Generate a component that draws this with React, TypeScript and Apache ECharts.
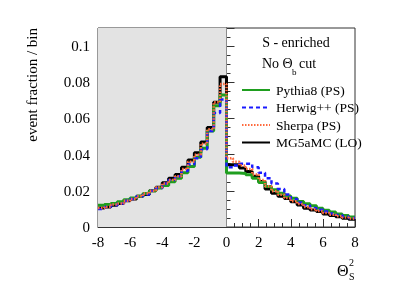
import React, { useEffect, useRef } from "react";
import * as echarts from "echarts";

const BIN_MIN = -8;
const BIN_WIDTH = 0.4;
const X_MAX = 8;

const pythia = [
  0.012, 0.0125, 0.013, 0.014, 0.015, 0.016, 0.017, 0.0185, 0.02, 0.0215,
  0.023, 0.025, 0.027, 0.03, 0.0335, 0.0385, 0.0435, 0.053, 0.067, 0.073,
  0.0298, 0.0298, 0.0296, 0.0289, 0.027, 0.0246, 0.0224, 0.0206, 0.0187, 0.0172,
  0.0159, 0.0141, 0.0128, 0.0117, 0.0104, 0.0093, 0.0083, 0.0072, 0.0063, 0.0055,
];
const herwig = [
  0.01, 0.011, 0.012, 0.013, 0.0145, 0.0155, 0.017, 0.018, 0.02, 0.0215,
  0.024, 0.026, 0.028, 0.031, 0.0345, 0.038, 0.043, 0.053, 0.063, 0.0705,
  0.033, 0.034, 0.035, 0.035, 0.033, 0.03, 0.027, 0.024, 0.021, 0.018,
  0.0155, 0.0135, 0.012, 0.0105, 0.0095, 0.0085, 0.0075, 0.0066, 0.0058, 0.005,
];
const sherpa = [
  0.0105, 0.011, 0.0125, 0.013, 0.0145, 0.0155, 0.017, 0.0185, 0.02, 0.022,
  0.024, 0.026, 0.028, 0.032, 0.036, 0.04, 0.046, 0.054, 0.069, 0.079,
  0.038, 0.036, 0.034, 0.032, 0.029, 0.026, 0.0225, 0.0198, 0.0178, 0.016,
  0.0143, 0.0127, 0.011, 0.0098, 0.0088, 0.0078, 0.0068, 0.006, 0.0053, 0.0047,
];
const mg5 = [
  0.0105, 0.011, 0.012, 0.013, 0.0145, 0.0155, 0.017, 0.018, 0.02, 0.022,
  0.0245, 0.027, 0.029, 0.033, 0.037, 0.041, 0.047, 0.055, 0.069, 0.083,
  0.0344, 0.0344, 0.0326, 0.0307, 0.028, 0.0252, 0.021, 0.0187, 0.017, 0.0157,
  0.014, 0.0122, 0.0104, 0.0094, 0.0085, 0.0072, 0.0063, 0.0057, 0.0048, 0.0043,
];

const seriesNames = ["Pythia8 (PS)", "Herwig++ (PS)", "Sherpa (PS)", "MG5aMC (LO)"];

const toSteps = (vals: number[]) => {
  const pts: [number, number][] = vals.map((v, i) => [BIN_MIN + i * BIN_WIDTH, v]);
  pts.push([X_MAX, vals[vals.length - 1]]);
  return pts;
};

const FONT = "Liberation Serif";

export default function App() {
  const ref = useRef<HTMLDivElement>(null);
  useEffect(() => {
    if (!ref.current) return;
    const chart = echarts.init(ref.current, undefined, { renderer: "svg" });
    const mkLine = (name: string, vals: number[], color: string, width: number, type: any, extra: any = {}) => ({
      name,
      type: "line",
      step: "end",
      data: toSteps(vals),
      symbol: "none",
      showSymbol: false,
      lineStyle: { color, width, type },
      itemStyle: { color },
      ...extra,
    });
    chart.setOption({
      animation: false,
      grid: { left: 98, right: 40, top: 28, bottom: 57, show: true, borderColor: "#333", borderWidth: 1 },
      legend: {
        data: seriesNames,
        orient: "vertical",
        left: 236,
        top: 78,
        itemWidth: 28,
        itemHeight: 14,
        itemGap: 3.5,
        itemStyle: { opacity: 0 },
        textStyle: { fontFamily: FONT, fontSize: 13.5, color: "#000", lineHeight: 14, padding: [0, 0, 0, 1] },
      },
      xAxis: {
        type: "value",
        min: -8,
        max: 8,
        interval: 2,
        axisLine: { show: true, lineStyle: { color: "#333" } },
        axisTick: { inside: true, length: 8, lineStyle: { color: "#333" } },
        minorTick: { show: true, splitNumber: 4, length: 4, lineStyle: { color: "#333" } },
        splitLine: { show: false },
        axisLabel: { fontFamily: FONT, fontSize: 15, color: "#000", margin: 7 },
      },
      yAxis: {
        type: "value",
        min: 0,
        max: 0.11,
        interval: 0.02,
        axisLine: { show: true, lineStyle: { color: "#333" } },
        axisTick: { inside: true, length: 8, lineStyle: { color: "#333" } },
        minorTick: { show: true, splitNumber: 4, length: 4, lineStyle: { color: "#333" } },
        splitLine: { show: false },
        axisLabel: { fontFamily: FONT, fontSize: 15, color: "#000", margin: 8, showMaxLabel: false },
      },
      series: [
        mkLine(seriesNames[3], mg5, "#000000", 3, "solid", {
          markArea: {
            silent: true,
            itemStyle: { color: "#e3e3e3" },
            data: [[{ xAxis: -8 }, { xAxis: 0 }]],
          },
        }),
        mkLine(seriesNames[0], pythia, "#1f9e1f", 3, "solid"),
        mkLine(seriesNames[1], herwig, "#1a1aff", 2.5, [4, 3]),
        mkLine(seriesNames[2], sherpa, "#ff6a3d", 2.5, [1.5, 1.5]),
      ],
      graphic: [
        {
          type: "text",
          x: 32,
          y: 28,
          rotation: Math.PI / 2,
          style: { text: "event fraction / bin", font: `15px "${FONT}"`, fill: "#000", align: "right", verticalAlign: "middle" },
        },
        {
          type: "text",
          x: 111,
          y: 45,
          style: { text: "\u221As = 13 TeV", font: `13px "${FONT}"`, fill: "#000", verticalAlign: "middle" },
        },
        {
          type: "text",
          x: 118,
          y: 63,
          style: { text: "p p \u2192 t t\u0304", font: `13px "${FONT}"`, fill: "#000", verticalAlign: "middle" },
        },
        {
          type: "text",
          x: 296,
          y: 42,
          style: { text: "S - enriched", font: `14px "${FONT}"`, fill: "#000", align: "center", verticalAlign: "middle" },
        },
        {
          type: "text",
          x: 262,
          y: 63,
          style: { text: "No \u0398", font: `14px "${FONT}"`, fill: "#000", verticalAlign: "middle" },
        },
        {
          type: "text",
          x: 292,
          y: 72,
          style: { text: "b", font: `9px "${FONT}"`, fill: "#000", verticalAlign: "middle" },
        },
        {
          type: "text",
          x: 299,
          y: 63,
          style: { text: "cut", font: `14px "${FONT}"`, fill: "#000", verticalAlign: "middle" },
        },
        {
          type: "text",
          x: 337,
          y: 270,
          style: { text: "\u0398", font: `16px "${FONT}"`, fill: "#000", verticalAlign: "middle" },
        },
        {
          type: "text",
          x: 349,
          y: 262,
          style: { text: "2", font: `10px "${FONT}"`, fill: "#000", verticalAlign: "middle" },
        },
        {
          type: "text",
          x: 349,
          y: 276,
          style: { text: "S", font: `10px "${FONT}"`, fill: "#000", verticalAlign: "middle" },
        },
      ],
    });
    return () => chart.dispose();
  }, []);
  return <div ref={ref} style={{ position: "fixed", left: 0, top: 0, width: 395, height: 284 }} />;
}
